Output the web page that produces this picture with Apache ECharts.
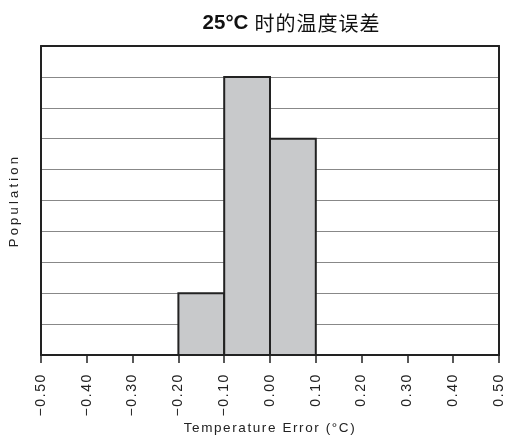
<!DOCTYPE html>
<html>
<head>
<meta charset="utf-8">
<script src="https://cdn.jsdelivr.net/npm/echarts@6/dist/echarts.min.js"></script>
<style>
  html, body { margin: 0; padding: 0; background: #fff; }
  #chart { width: 507px; height: 440px; }
</style>
</head>
<body>
<div id="chart"></div>
<script>
// Histogram bins: lower edge, upper edge (°C) and population count
const binStart = [-0.2, -0.1, 0.0];
const binEnd = [-0.1, 0.0, 0.1];
const population = [2, 9, 7];

const titleBold = '25°C';
const titleRest = '时的温度误差';
const xName = 'Temperature Error (°C)';
const yName = 'Population';

// Tracked lettering: extra spacing per font size, applied when text is painted
const tracking = { '14px': '1.6px', '13.5px': '1.6px', '13px': '3.2px', '20px': '1px' };
const baseFillText = CanvasRenderingContext2D.prototype.fillText;
CanvasRenderingContext2D.prototype.fillText = function (text, x, y, maxWidth) {
  const m = /(\d+(?:\.\d+)?px)/.exec(this.font);
  const ls = (m && tracking[m[1]]) || '0px';
  this.letterSpacing = ls;
  if (maxWidth === undefined) baseFillText.call(this, text, x, y);
  else baseFillText.call(this, text, x, y, maxWidth);
  this.letterSpacing = '0px';
};

const chart = echarts.init(document.getElementById('chart'), null, { renderer: 'canvas' });

const binData = binStart.map((s, i) => [s, binEnd[i], population[i]]);

const frameLine = () => ({ show: true, onZero: false, lineStyle: { color: '#222', width: 2 } });

chart.setOption({
  animation: false,
  backgroundColor: '#fff',
  title: {
    text: '{b|' + titleBold + '}{s|}{n|' + titleRest + '}',
    left: 285,
    textAlign: 'center',
    top: 8,
    textStyle: {
      rich: {
        b: { fontFamily: 'Liberation Sans, sans-serif', fontSize: 20.5, fontWeight: 'bold', color: '#111' },
        s: { width: 9 },
        n: { fontFamily: 'Noto Sans CJK SC, sans-serif', fontSize: 20, fontWeight: 'normal', color: '#111' }
      }
    }
  },
  grid: {
    left: 38,
    right: 8,
    top: 46,
    bottom: 81,
    show: false
  },
  xAxis: [{
    type: 'value',
    z: 4,
    min: -0.5,
    max: 0.5,
    interval: 0.1,
    name: xName,
    nameLocation: 'middle',
    nameGap: 66,
    nameTextStyle: {
      fontFamily: 'Liberation Sans, sans-serif',
      fontSize: 13.5,
      color: '#222'
    },
    axisLine: frameLine(),
    axisTick: { show: true, length: 8, inside: false, lineStyle: { color: '#222', width: 1.5 } },
    splitLine: { show: false },
    axisLabel: {
      rotate: 90,
      margin: 18,
      fontFamily: 'Liberation Sans, sans-serif',
      fontSize: 14,
      color: '#222',
      formatter: v => (v < 0 ? '\u2212' : '') + Math.abs(v).toFixed(2)
    }
  }, {
    // top edge of the frame
    type: 'value',
    z: 4,
    position: 'top',
    min: -0.5,
    max: 0.5,
    axisLine: frameLine(),
    axisTick: { show: false },
    axisLabel: { show: false },
    splitLine: { show: false }
  }],
  yAxis: [{
    type: 'value',
    z: 1,
    min: 0,
    max: 10,
    interval: 1,
    name: yName,
    nameLocation: 'middle',
    nameGap: 20,
    nameTextStyle: {
      fontFamily: 'Liberation Sans, sans-serif',
      fontSize: 13,
      color: '#222'
    },
    axisLine: frameLine(),
    axisTick: { show: false },
    axisLabel: { show: false },
    splitLine: {
      show: true,
      showMinLine: false,
      showMaxLine: false,
      lineStyle: { color: '#888', width: 1.2 }
    }
  }, {
    // right edge of the frame
    type: 'value',
    z: 4,
    position: 'right',
    min: 0,
    max: 10,
    axisLine: frameLine(),
    axisTick: { show: false },
    axisLabel: { show: false },
    splitLine: { show: false }
  }],
  series: [{
    type: 'custom',
    data: binData,
    encode: { x: [0, 1], y: 2 },
    z: 5,
    renderItem: function (params, api) {
      const p0 = api.coord([api.value(0), api.value(2)]);
      const p1 = api.coord([api.value(1), 0]);
      return {
        type: 'rect',
        shape: { x: p0[0], y: p0[1], width: p1[0] - p0[0], height: p1[1] - p0[1] },
        style: { fill: '#c8c9cb', stroke: '#222', lineWidth: 2 }
      };
    }
  }]
});
</script>
</body>
</html>
